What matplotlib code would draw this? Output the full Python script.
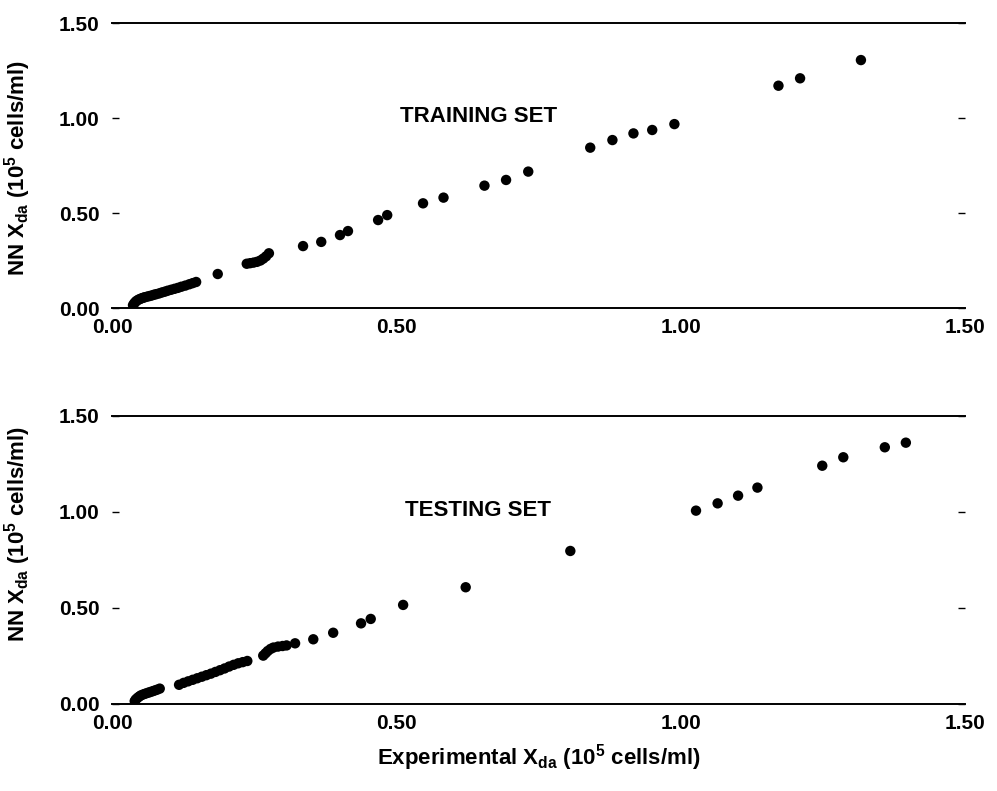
import numpy as np
import matplotlib
matplotlib.use("Agg")
import matplotlib.pyplot as plt

# NN estimate vs. experimental viable cell density, units of 1e5 cells/ml
train_x = [0.037, 0.039, 0.041, 0.043, 0.046, 0.049, 0.052, 0.055, 0.058, 0.062,
           0.066, 0.070, 0.074, 0.078, 0.083, 0.088, 0.093, 0.098, 0.104, 0.110,
           0.116, 0.122, 0.129, 0.136, 0.142, 0.148,
           0.186,
           0.237, 0.243, 0.249, 0.255, 0.261, 0.266, 0.271, 0.276,
           0.336, 0.368, 0.401, 0.415, 0.468, 0.484,
           0.547, 0.583, 0.655, 0.693, 0.732,
           0.841, 0.880, 0.917, 0.950, 0.989,
           1.172, 1.210, 1.317]
train_y = [0.015, 0.024, 0.031, 0.037, 0.043, 0.047, 0.051, 0.054, 0.057, 0.060,
           0.063, 0.066, 0.070, 0.073, 0.077, 0.082, 0.086, 0.091, 0.096, 0.101,
           0.106, 0.112, 0.118, 0.125, 0.131, 0.137,
           0.179,
           0.233, 0.236, 0.239, 0.243, 0.250, 0.260, 0.272, 0.288,
           0.326, 0.348, 0.384, 0.405, 0.463, 0.489,
           0.551, 0.581, 0.644, 0.674, 0.718,
           0.844, 0.884, 0.919, 0.937, 0.968,
           1.170, 1.209, 1.305]

test_x = [0.040, 0.042, 0.045, 0.048, 0.051, 0.055, 0.059, 0.063, 0.067, 0.071,
          0.075, 0.079, 0.084,
          0.118, 0.126, 0.134, 0.142, 0.150, 0.158, 0.166, 0.174, 0.182, 0.190,
          0.198, 0.206, 0.214, 0.222, 0.230, 0.238,
          0.266, 0.270, 0.274, 0.279, 0.284, 0.292, 0.300, 0.307, 0.322,
          0.354, 0.389, 0.438, 0.455,
          0.512, 0.622, 0.806,
          1.027, 1.065, 1.101, 1.135, 1.249, 1.286, 1.359, 1.396]
test_y = [0.015, 0.024, 0.032, 0.039, 0.045, 0.050, 0.054, 0.058, 0.062, 0.066,
          0.070, 0.074, 0.080,
          0.100, 0.110, 0.118, 0.126, 0.134, 0.142, 0.150, 0.158, 0.167, 0.176,
          0.185, 0.195, 0.204, 0.212, 0.218, 0.224,
          0.252, 0.264, 0.276, 0.287, 0.294, 0.299, 0.302, 0.305, 0.316,
          0.337, 0.371, 0.420, 0.443,
          0.516, 0.608, 0.797,
          1.007, 1.045, 1.085, 1.127, 1.241, 1.285, 1.337, 1.361]

ticks = [0.0, 0.5, 1.0, 1.5]
tick_labels = ["0.00", "0.50", "1.00", "1.50"]

plt.rcParams['font.family'] = ['Liberation Sans', 'DejaVu Sans']
plt.rcParams['font.size'] = 15
plt.rcParams['font.weight'] = 'bold'
plt.rcParams['axes.labelweight'] = 'bold'
plt.rcParams['mathtext.fontset'] = 'custom'
plt.rcParams['mathtext.rm'] = 'Liberation Sans:bold'
plt.rcParams['mathtext.bf'] = 'Liberation Sans:bold'
plt.rcParams['mathtext.default'] = 'bf'

fig = plt.figure(figsize=(9.97, 7.91), dpi=100)
ax_top = fig.add_axes([0.1123, 0.6106, 0.8556, 0.3603])
ax_bot = fig.add_axes([0.1123, 0.1100, 0.8556, 0.3641])

ylab = r"NN X$_{da}$ (10$^5$ cells/ml)"
panels = [(ax_top, train_x, train_y, "TRAINING SET", 1.01, 0.49),
          (ax_bot, test_x, test_y, "TESTING SET", 1.01, 0.59)]

for ax, xs, ys, name, ty, ly in panels:
    ax.scatter(xs, ys, s=56, c='black', edgecolors='none', zorder=3)
    ax.set_xlim(0, 1.5)
    ax.set_ylim(0, 1.5)
    ax.set_xticks(ticks)
    ax.set_xticklabels(tick_labels)
    ax.set_yticks(ticks)
    ax.set_yticklabels(tick_labels)
    for side in ("left", "right"):
        ax.spines[side].set_visible(False)
    for side in ("top", "bottom"):
        ax.spines[side].set_linewidth(1.4)
    ax.tick_params(axis='x', length=0, pad=7)
    ax.tick_params(axis='y', direction='in', length=5, width=1.0,
                   left=True, right=True, pad=9)
    ax.text(0.644, ty, name, ha='center', va='center', fontsize=16)
    ax.set_ylabel(ylab, fontsize=16)
    ax.yaxis.set_label_coords(-0.093, ly)

ax_bot.set_xlabel(r"Experimental X$_{da}$ (10$^5$ cells/ml)", fontsize=16, labelpad=7)

fig.savefig("out.png", dpi=100)
